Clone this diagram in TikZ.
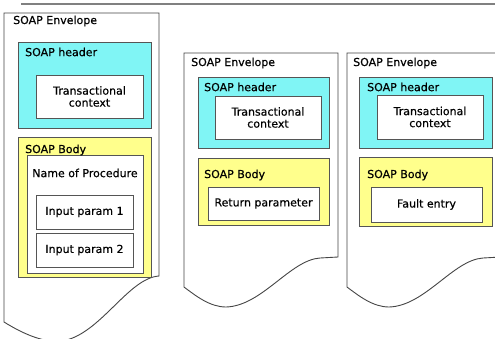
\documentclass[tikz,border=0pt]{standalone}
\usepackage{fontspec}
\setmainfont{DejaVu Sans}[FakeBold=0.5]
\definecolor{hdrC}{RGB}{128,245,245}
\definecolor{bdyC}{RGB}{255,255,140}
\definecolor{edgeC}{RGB}{85,85,85}
\definecolor{envC}{RGB}{70,70,70}
\definecolor{ruleC}{RGB}{128,128,128}
\begin{document}
\begin{tikzpicture}[x=1pt,y=-1pt,
  envelope/.style={draw=envC, line width=0.9pt, fill=white},
  hdrbox/.style={draw=edgeC, fill=hdrC, line width=1pt, anchor=north west, inner sep=0pt, outer sep=0pt},
  bodybox/.style={draw=edgeC, fill=bdyC, line width=1pt, anchor=north west, inner sep=0pt, outer sep=0pt},
  itembox/.style={draw=edgeC, fill=white, line width=1pt, anchor=north west, inner sep=0pt, outer sep=0pt},
  lbl/.style={anchor=west, inner sep=0pt, font=\fontsize{11}{12}\selectfont},
  txt/.style={align=center, inner sep=0pt, font=\fontsize{11}{12}\selectfont}
]
\useasboundingbox (0,0) rectangle (495,338);
\clip (0,0) rectangle (495,338);
\fill[white] (0,0) rectangle (495,338);
\draw[ruleC, line width=2pt] (21,3.5) -- (495,3.5);

% ---------- Envelope 1 ----------
\draw[envelope] (4,13) -- (159,13) -- (159,276)
  .. controls (128,278) and (100,335) .. (62,341)
  .. controls (45,343) and (25,335) .. (4,322) -- cycle;
\node[lbl] (e1) at (13,21) {SOAP Envelope};
\node[hdrbox, minimum width=133pt, minimum height=86pt] (h1) at (18,42) {};
\node[lbl] (h1l) at (25,52) {SOAP header};
\node[itembox, minimum width=107pt, minimum height=43pt] (t1) at (36,75) {};
\node[txt] at (t1.center) {Transactional\\context};
\node[bodybox, minimum width=133pt, minimum height=140pt] (b1) at (18,137) {};
\node[itembox, minimum width=116pt, minimum height=118pt] (p1) at (27,155) {};
\node[lbl] (b1l) at (25,150) {SOAP Body};
\node[txt] (p1l) at (85,173) {Name of Procedure};
\node[itembox, minimum width=97pt, minimum height=34pt] (i1) at (36,195) {};
\node[txt] at (i1.center) {Input param 1};
\node[itembox, minimum width=97pt, minimum height=34pt] (i2) at (36,233) {};
\node[txt] at (i2.center) {Input param 2};

% ---------- Envelope 2 ----------
\draw[envelope] (184,53) -- (338,53) -- (338,257) -- (320,258)
  .. controls (290,260) and (262,306) .. (226,307)
  .. controls (210,307) and (196,296) .. (184,287) -- cycle;
\node[lbl] (e2) at (191,63) {SOAP Envelope};
\node[hdrbox, minimum width=131pt, minimum height=71pt] (h2) at (198,77) {};
\node[lbl] (h2l) at (204,87) {SOAP header};
\node[itembox, minimum width=106pt, minimum height=43pt] (t2) at (215,96) {};
\node[txt] at (t2.center) {Transactional\\context};
\node[bodybox, minimum width=131pt, minimum height=67pt] (b2) at (198,158) {};
\node[lbl] (b2l) at (204,175) {SOAP Body};
\node[itembox, minimum width=111pt, minimum height=33pt] (r2) at (208,187) {};
\node[txt] at (r2.center) {Return parameter};

% ---------- Envelope 3 ----------
\draw[envelope] (347,53) -- (501,53) -- (501,257) -- (483,258)
  .. controls (453,260) and (425,306) .. (389,307)
  .. controls (373,307) and (359,296) .. (347,287) -- cycle;
\node[lbl] (e3) at (353,63) {SOAP Envelope};
\node[hdrbox, minimum width=133pt, minimum height=71pt] (h3) at (359,77) {};
\node[lbl] (h3l) at (367,87) {SOAP header};
\node[itembox, minimum width=106pt, minimum height=44pt] (t3) at (377,95) {};
\node[txt] at (t3.center) {Transactional\\context};
\node[bodybox, minimum width=133pt, minimum height=69pt] (b3) at (359,157) {};
\node[lbl] (b3l) at (367,175) {SOAP Body};
\node[itembox, minimum width=111pt, minimum height=35pt] (f3) at (371,187) {};
\node[txt] at (f3.center) {Fault entry};
\end{tikzpicture}
\end{document}
